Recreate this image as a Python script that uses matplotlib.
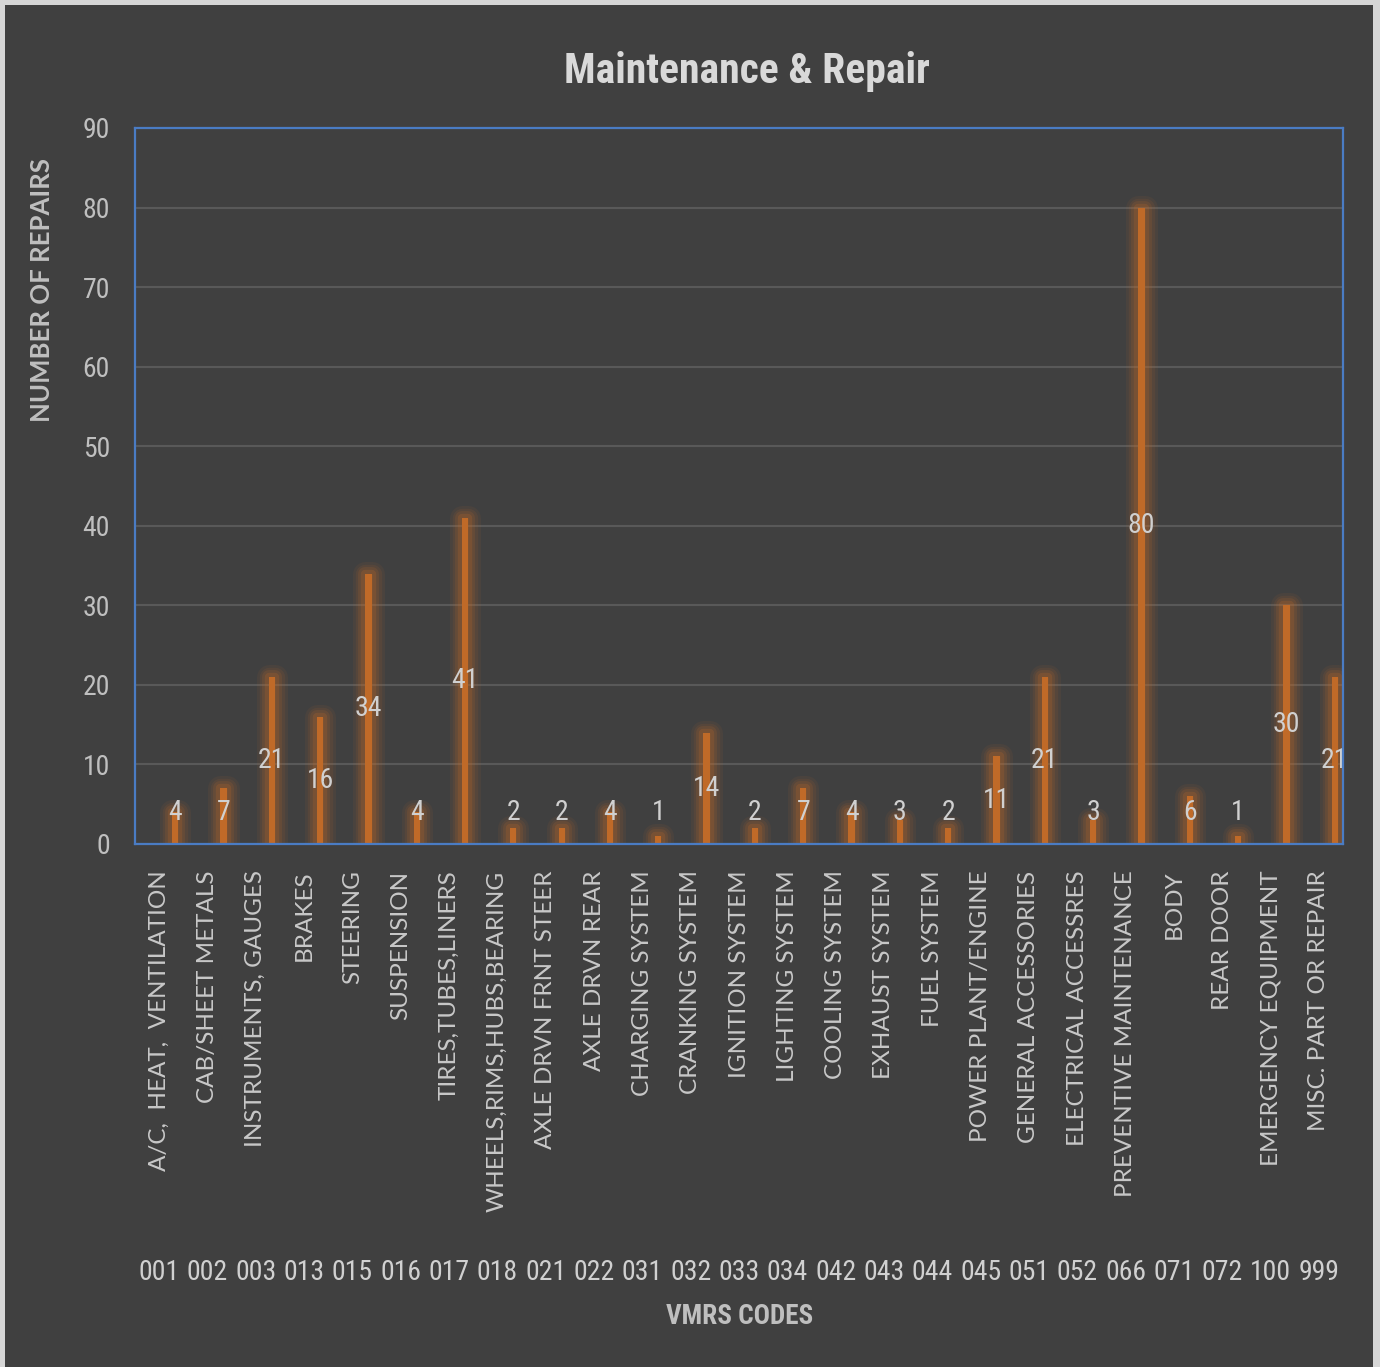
import matplotlib.pyplot as plt
import matplotlib.patheffects as pe
from matplotlib.patches import Rectangle
import numpy as np

codes = ["001", "002", "003", "013", "015", "016", "017", "018", "021", "022",
         "031", "032", "033", "034", "042", "043", "044", "045", "051", "052",
         "066", "071", "072", "100", "999"]
systems = ["A/C,  HEAT,  VENTILATION", "CAB/SHEET METALS", "INSTRUMENTS, GAUGES",
           "BRAKES", "STEERING", "SUSPENSION", "TIRES,TUBES,LINERS",
           "WHEELS,RIMS,HUBS,BEARING", "AXLE DRVN FRNT STEER", "AXLE DRVN REAR",
           "CHARGING SYSTEM", "CRANKING SYSTEM", "IGNITION SYSTEM",
           "LIGHTING SYSTEM", "COOLING SYSTEM", "EXHAUST SYSTEM", "FUEL SYSTEM",
           "POWER PLANT/ENGINE", "GENERAL ACCESSORIES", "ELECTRICAL ACCESSRES",
           "PREVENTIVE MAINTENANCE", "BODY", "REAR DOOR", "EMERGENCY EQUIPMENT",
           "MISC. PART OR REPAIR"]
repairs = [4, 7, 21, 16, 34, 4, 41, 2, 2, 4, 1, 14, 2, 7, 4, 3, 2, 11, 21, 3,
           80, 6, 1, 30, 21]

bg = "#404040"
txt = "#D0D0D0"
orange = "#C06A28"
narrow = ["Roboto Condensed", "Lato", "DejaVu Sans"]
normal = ["Lato", "DejaVu Sans"]

fig = plt.figure(figsize=(13.8, 13.67), dpi=100, facecolor="#D6D6D6")
fig.patches.append(Rectangle((5 / 1380, 0), 1368 / 1380, 1 - 5 / 1367,
                             transform=fig.transFigure, facecolor=bg,
                             edgecolor="none", zorder=-10))

ax = fig.add_axes([135 / 1380, 1 - 844 / 1367, 1208 / 1380, 716 / 1367])
ax.set_facecolor(bg)

x = np.arange(len(codes))
offset = 0.33
glow = [pe.withStroke(linewidth=w, foreground=orange, alpha=a, joinstyle="round")
        for w, a in [(18, 0.08), (14, 0.1), (10, 0.15), (6, 0.22)]]
bars = ax.bar(x + offset, repairs, width=0.13, color=orange, zorder=3)
for b in bars:
    b.set_path_effects(glow + [pe.Normal()])

for xi, v in zip(x, repairs):
    ax.text(xi + offset, max(v / 2, 4.0), str(v), ha="center", va="center",
            color=txt, fontsize=20, family=narrow, zorder=5)

ax.set_xlim(-0.5, len(codes) - 0.5)
ax.set_ylim(0, 90)
ax.set_yticks(range(0, 91, 10))
ax.tick_params(axis="y", length=0, pad=18, labelsize=20, labelcolor="#BFBFBF")
for lab in ax.get_yticklabels():
    lab.set_family(narrow)
ax.set_xticks(x)
ax.set_xticklabels(systems, rotation=90, fontsize=17.5, color="#C8C8C8",
                   family=normal)
ax.tick_params(axis="x", length=0, pad=19)
ax.grid(axis="y", color="#595959", linewidth=1.5, zorder=0)
ax.set_axisbelow(True)
for s in ax.spines.values():
    s.set_color("#4A7CC4")
    s.set_linewidth(1.6)
    s.set_zorder(6)

# second row of category labels: the VMRS code numbers
for xi, c in zip(x, codes):
    ax.text(xi, -0.598, c, transform=ax.get_xaxis_transform(), ha="center",
            va="center", fontsize=20, color=txt, family=narrow)

fig.text(747 / 1380, 1 - 71 / 1367, "Maintenance & Repair", ha="center",
         va="center", fontsize=30, fontweight="bold", color="#D9D9D9",
         family=narrow)
fig.text(42 / 1380, 1 - 290 / 1367, "NUMBER OF REPAIRS", rotation=90,
         ha="center", va="center", fontsize=18.5, fontweight="bold",
         color="#BFBFBF", family=normal)
fig.text(740 / 1380, 1 - 1316 / 1367, "VMRS CODES", ha="center", va="center",
         fontsize=19.5, fontweight="bold", color="#BFBFBF", family=narrow)

fig.savefig("out.png", dpi=100, facecolor=fig.get_facecolor())
